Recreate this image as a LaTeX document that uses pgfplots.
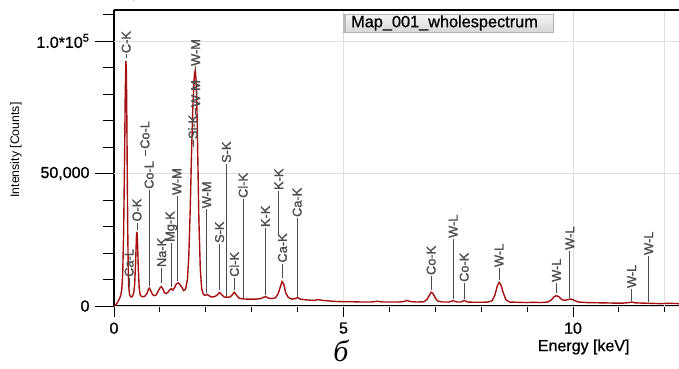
\documentclass[border=0pt]{standalone}
\usepackage{fontspec}
\setmainfont{Liberation Sans}
\newfontfamily\hv{Liberation Sans}[FakeBold=0.8]
\newfontfamily\hvl{Liberation Sans}[FakeBold=1.4]
\newfontfamily\tnr{Liberation Serif}
\usepackage{pgfplots}
\pgfplotsset{compat=1.18}
\definecolor{spec}{RGB}{165,16,16}
\newcommand\pk[4]{\draw[black!70,line width=0.6pt] (axis cs:#1,#2) -- (axis cs:#1,#3) node[rotate=90,anchor=west,inner sep=0.8pt,font=\hvl\fontsize{12.8}{13}\selectfont] {#4};}
\begin{document}
\begin{tikzpicture}
\begin{axis}[
  scale only axis, width=565pt, height=296pt,
  xmin=0, xmax=12.31, ymin=0, ymax=111700,
  axis x line*=bottom, axis y line*=left,
  axis line style={black, line width=1.1pt},
  xtick={0,5,10}, xticklabels={0,5,10},
  minor xtick={1,2,3,4,6,7,8,9,11,12},
  ytick={10000,20000,30000,40000,60000,70000,80000,90000,110000},
  yticklabels={},
  extra y ticks={0,50000,100000},
  extra y tick labels={0,{50,000},{1.0*10\textsuperscript{5}}},
  extra y tick style={major tick length=19pt, ymajorgrids=true, yticklabel style={xshift=-2pt}},
  tick align=outside,
  major tick length=11pt, minor tick length=6pt,
  tick style={black, line width=0.9pt},
  ticklabel style={font=\hv\fontsize{16}{18}\selectfont},
  xticklabel style={yshift=-2pt},
  xmajorgrids=true, ymajorgrids=false, grid style={gray!25, line width=0.8pt},
]
\draw[gray!25, line width=0.8pt] (axis cs:12,0) -- (axis cs:12,111700);
\addplot[spec, line width=1.4pt] coordinates {
(0,0) (0.03,300) (0.06,900) (0.09,1800) (0.12,2800) (0.15,4200) (0.17,6500) (0.19,12000) (0.21,28000) (0.23,55000) (0.245,80000) (0.26,92500) (0.27,88000) (0.28,70000) (0.29,48000) (0.30,28000) (0.31,14000) (0.32,7500) (0.34,4200) (0.37,3400) (0.40,3600) (0.43,5000) (0.45,8000) (0.47,16000) (0.49,26500) (0.50,28000) (0.51,25500) (0.53,14000) (0.55,6500) (0.57,4200) (0.60,3600) (0.64,3500) (0.68,3800) (0.72,4800) (0.75,6300) (0.77,6800) (0.80,5800) (0.84,4300) (0.88,3900) (0.92,4200) (0.96,5500) (1.00,6800) (1.03,7300) (1.06,6600) (1.10,5000) (1.14,4700) (1.18,5300) (1.22,6200) (1.25,6500) (1.28,6000) (1.32,6900) (1.36,8400) (1.40,8700) (1.44,8000) (1.48,7000) (1.52,5800) (1.56,6400) (1.60,10000) (1.63,19000) (1.66,36000) (1.69,58000) (1.72,76000) (1.75,87000) (1.77,89000) (1.79,85000) (1.81,72000) (1.83,52000) (1.85,32000) (1.88,14000) (1.91,6500) (1.95,4300) (1.99,4000) (2.03,4400) (2.07,3900) (2.12,3400) (2.18,3500) (2.24,4000) (2.30,5100) (2.35,4200) (2.40,3400) (2.46,3300) (2.53,3400) (2.58,4300) (2.62,5200) (2.66,4300) (2.72,3000) (2.80,2700) (2.90,2600) (3.00,2600) (3.10,2600) (3.20,2800) (3.30,3600) (3.36,3000) (3.44,2800) (3.52,3100) (3.58,4800) (3.62,7000) (3.66,9200) (3.70,8200) (3.74,5000) (3.80,3200) (3.88,2600) (3.95,2800) (4.00,3200) (4.06,2600) (4.2,2300) (4.35,2100) (4.45,2400) (4.55,2100) (4.7,1900) (4.85,1700) (5.0,1600) (5.2,1600) (5.4,1500) (5.6,1500) (5.75,1800) (5.85,1500) (6.0,1500) (6.2,1500) (6.32,1700) (6.38,2100) (6.45,1700) (6.6,1500) (6.75,1600) (6.82,2500) (6.87,4000) (6.91,5200) (6.95,4700) (7.00,3000) (7.05,1900) (7.15,1500) (7.3,1500) (7.39,2000) (7.47,1500) (7.56,1500) (7.63,2100) (7.70,1500) (7.85,1400) (8.0,1400) (8.15,1500) (8.24,2000) (8.30,4200) (8.35,7500) (8.39,8900) (8.43,8000) (8.48,5000) (8.54,2300) (8.62,1500) (8.8,1400) (9.0,1300) (9.15,1400) (9.3,1300) (9.45,1500) (9.53,2300) (9.59,3500) (9.64,3900) (9.69,3500) (9.75,2500) (9.82,2100) (9.90,2500) (9.96,2600) (10.03,2100) (10.12,1500) (10.3,1300) (10.6,1200) (10.9,1100) (11.1,1100) (11.22,1300) (11.28,1500) (11.35,1200) (11.5,1100) (11.7,1000) (11.9,900) (12.1,1000) (12.31,900)
};
\pk{0.265}{93500}{95000}{C-K}
\pk{0.33}{7000}{10600}{Ca-L}
\pk{0.50}{28500}{31500}{O-K}
\pk{0.675}{56500}{58900}{Co-L}
\pk{0.765}{7500}{43800}{Co-L}
\pk{1.04}{8500}{14300}{Na-K}
\pk{1.25}{7000}{23800}{Mg-K}
\pk{1.37}{9500}{41500}{W-M}
\pk{1.72}{60000}{62600}{Si-K}
\pk{1.78}{72000}{74700}{W-M}
\pk{1.78}{89000}{90200}{W-M}
\pk{2.02}{5000}{36500}{W-M}
\pk{2.30}{6000}{23400}{S-K}
\pk{2.45}{3500}{53600}{S-K}
\pk{2.62}{6000}{10600}{Cl-K}
\pk{2.81}{3000}{40400}{Cl-K}
\pk{3.30}{4000}{29400}{K-K}
\pk{3.59}{27000}{43400}{K-K}
\pk{3.67}{10500}{16000}{Ca-K}
\pk{3.99}{3500}{33200}{Ca-K}
\pk{6.91}{6000}{11300}{Co-K}
\pk{7.39}{2500}{25300}{W-L}
\pk{7.63}{2500}{8700}{Co-K}
\pk{8.39}{9800}{14300}{W-L}
\pk{9.64}{4800}{8700}{W-L}
\pk{9.93}{3000}{20800}{W-L}
\pk{11.28}{2000}{6400}{W-L}
\pk{11.65}{1500}{18900}{W-L}
\end{axis}
\draw[black, line width=1.1pt] (0pt,296pt) -- (565pt,296pt);
\shade[top color=gray!8, bottom color=gray!32] (229pt,274pt) rectangle (439pt,292pt);
\draw[gray!60, line width=0.5pt] (229pt,274pt) rectangle (439pt,292pt);
\fill[gray!55] (229pt,274pt) rectangle (232pt,292pt);
\node[anchor=west, inner sep=0pt, font=\hv\fontsize{16.3}{18}\selectfont] at (237pt,283pt) {Map\_001\_wholespectrum};
\node[rotate=90, font=\fontsize{12.3}{14}\selectfont] at (-98pt,156pt) {Intensity [Counts]};
\node[font=\hv\fontsize{16}{18}\selectfont] at (469.7pt,-41pt) {Energy [keV]};
\node[font=\tnr\itshape\fontsize{30}{32}\selectfont] at (227pt,-45pt) {б};
\pgfresetboundingbox
\path[use as bounding box] (-114pt,-62pt) rectangle (565pt,306pt);
\end{tikzpicture}
\end{document}
